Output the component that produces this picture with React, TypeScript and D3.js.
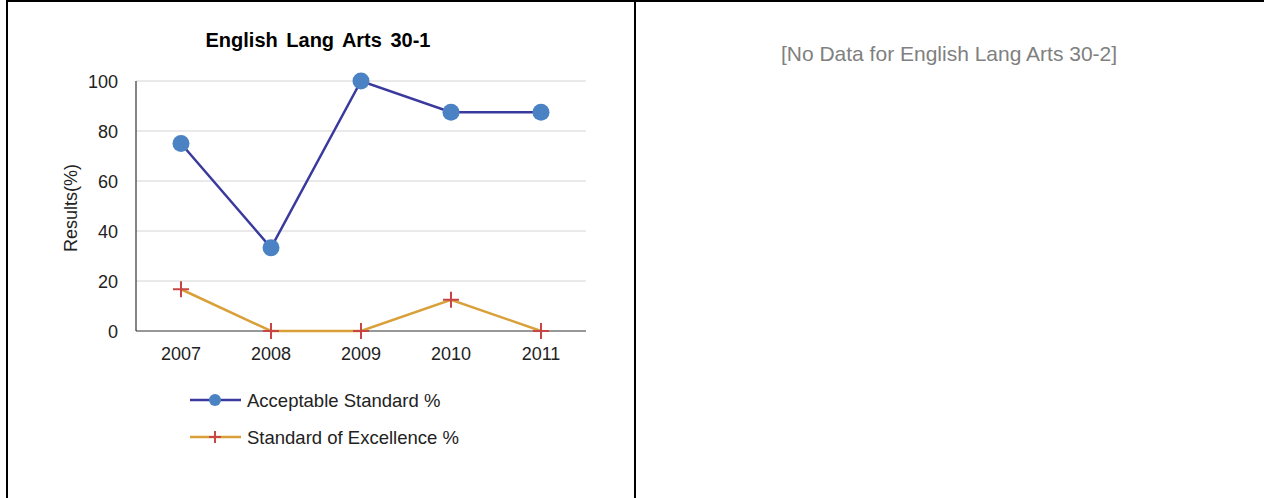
import React from "react";
import * as d3 from "d3";

const years = ["2007", "2008", "2009", "2010", "2011"];
const acceptable = [75, 33.3, 100, 87.5, 87.5];
const excellence = [16.7, 0, 0, 12.5, 0];
const yTicks = [0, 20, 40, 60, 80, 100];
const seriesNames = ["Acceptable Standard %", "Standard of Excellence %"];
const chartTitle = "English Lang Arts 30-1";
const noDataText = "[No Data for English Lang Arts 30-2]";

const FONT = "Arial, 'Liberation Sans', sans-serif";

export default function App() {
  const W = 1264, H = 498;
  const x0 = 136, x1 = 586, yTop = 81, yBot = 331;
  const x = d3.scalePoint<string>().domain(years).range([x0, x1]).padding(0.5);
  const y = d3.scaleLinear().domain([0, 100]).range([yBot, yTop]);
  const line = d3.line<number>().x((_, i) => x(years[i])!).y((d) => y(d));
  const accColor = "#3a3a9e";
  const accMarker = "#4a82c3";
  const excColor = "#d9a03a";
  const excMarker = "#c94444";
  const plus = (cx: number, cy: number, s: number, key: string | number) => (
    <g key={key} stroke={excMarker} strokeWidth={2}>
      <line x1={cx - s} x2={cx + s} y1={cy} y2={cy} />
      <line x1={cx} x2={cx} y1={cy - s} y2={cy + s} />
    </g>
  );
  return (
    <svg width={W} height={H} style={{ position: "absolute", left: 0, top: 0, background: "#fff" }} fontFamily={FONT}>
      <rect x={0} y={0} width={W} height={H} fill="#fff" />
      <line x1={6} x2={W} y1={1} y2={1} stroke="#000" strokeWidth={2} />
      <line x1={7} x2={7} y1={0} y2={H} stroke="#000" strokeWidth={2} />
      <line x1={635} x2={635} y1={0} y2={H} stroke="#000" strokeWidth={2} />

      <text x={318} y={47} textAnchor="middle" fontWeight="bold" fontSize={20} wordSpacing={3} fill="#000">{chartTitle}</text>

      {yTicks.map((t) => (
        <g key={t}>
          {t > 0 && <line x1={x0} x2={x1} y1={y(t)} y2={y(t)} stroke="#d4d4d4" strokeWidth={1} />}
          <text x={118} y={y(t) + 6.5} textAnchor="end" fontSize={18} fill="#222">{t}</text>
        </g>
      ))}
      <line x1={x0} x2={x0} y1={yTop} y2={yBot} stroke="#333" strokeWidth={1.2} />
      <line x1={x0} x2={x1} y1={yBot} y2={yBot} stroke="#333" strokeWidth={1.2} />
      {years.map((yr) => (
        <text key={yr} x={x(yr)} y={360} textAnchor="middle" fontSize={18} fill="#222">{yr}</text>
      ))}
      <text transform={`translate(77,${(yTop + yBot) / 2 + 2}) rotate(-90)`} textAnchor="middle" fontSize={18} fill="#222">Results(%)</text>

      <path d={line(excellence)!} fill="none" stroke={excColor} strokeWidth={2.5} />
      {excellence.map((v, i) => plus(x(years[i])!, y(v), 8, i))}
      <path d={line(acceptable)!} fill="none" stroke={accColor} strokeWidth={2.5} />
      {acceptable.map((v, i) => (
        <circle key={i} cx={x(years[i])} cy={y(v)} r={8.5} fill={accMarker} />
      ))}

      <line x1={190} x2={241} y1={400} y2={400} stroke={accColor} strokeWidth={2.5} />
      <circle cx={215} cy={400} r={6} fill={accMarker} />
      <text x={247} y={406.5} fontSize={18.5} fill="#222">{seriesNames[0]}</text>
      <line x1={190} x2={241} y1={437} y2={437} stroke={excColor} strokeWidth={2.5} />
      {plus(215, 437, 6, "lp")}
      <text x={247} y={443.5} fontSize={18.5} fill="#222">{seriesNames[1]}</text>

      <text x={949} y={61} textAnchor="middle" fontSize={21} fill="#808080">{noDataText}</text>
    </svg>
  );
}
